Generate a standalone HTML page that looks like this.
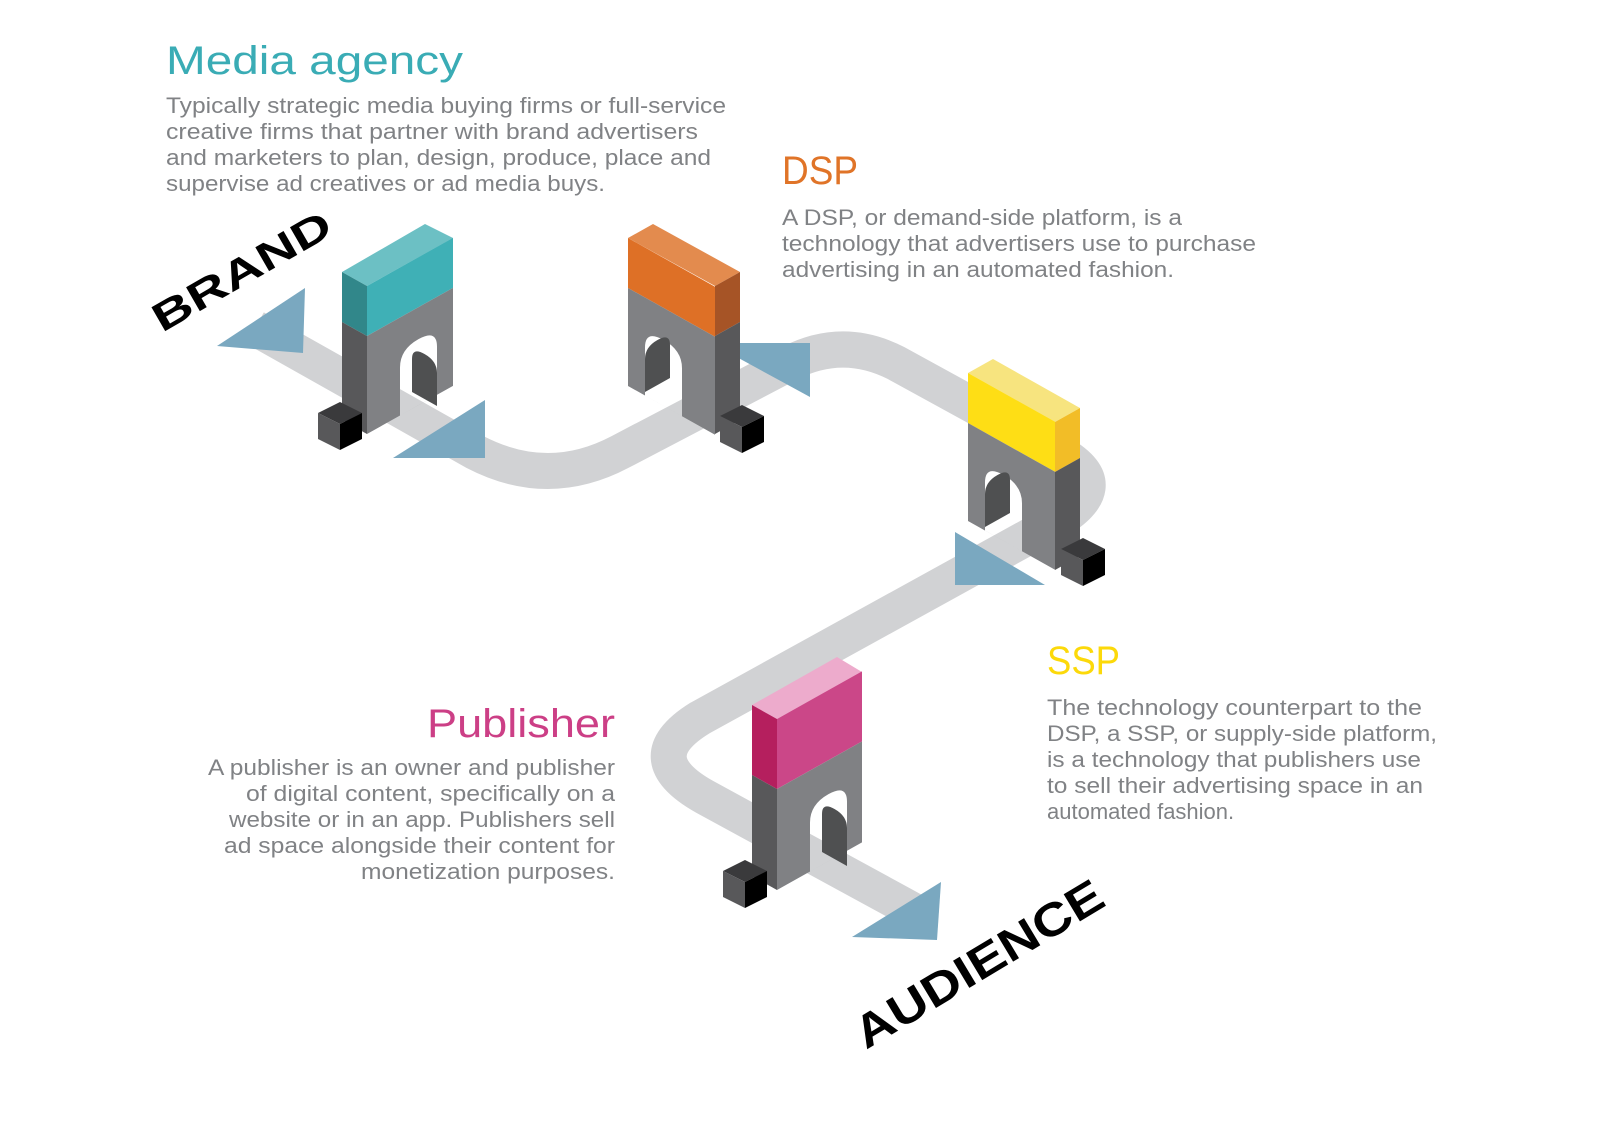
<!DOCTYPE html>
<html><head><meta charset="utf-8"><style>
html,body{margin:0;padding:0;background:#fff}
svg{display:block}
.h{font-family:"Liberation Sans",sans-serif;font-size:40px}
.t{font-family:"Liberation Sans",sans-serif;font-size:22px;fill:#808285}
.b{font-family:"Liberation Sans",sans-serif;font-weight:bold;fill:#000}
</style></head><body>
<svg width="1600" height="1124" viewBox="0 0 1600 1124" xmlns="http://www.w3.org/2000/svg">
<!-- road -->
<path d="M 255 328 L 475 452 Q 548 490 620 452 L 790 363 Q 843 336 896 363 L 1060 453 Q 1120 487 1050 525 L 700 718 Q 635 758 705 797 L 925 917" fill="none" stroke="#d1d2d4" stroke-width="36"/>

<!-- arrow behind DSP gate -->
<polygon points="711,343 810,343 810,397" fill="#7aa8c0"/>

<!-- Brand gate (A) -->
<g>
 <polygon points="342,272 425,224 453,238 367,286" fill="#6cc0c4"/>
 <g transform="matrix(1,-0.56,0,1,367,286)">
  <rect x="0" y="0" width="86" height="50" fill="#3fb0b6"/>
  <path d="M0 50 H86 V148 H0 Z M33 148 L33 100 Q33 82 51.5 82 Q70 82 70 100 L70 148 Z" fill="#808184" fill-rule="evenodd"/>
 </g>
 <path transform="matrix(1,0.56,0,1,412,347)" d="M0 45 L0 12 Q0 0 12.5 0 Q25 0 25 12 L25 45 Z" fill="#4f5051"/>
 <g transform="matrix(1,0.56,0,1,342,272)">
  <rect x="0" y="0" width="25" height="50" fill="#31878a"/>
  <rect x="0" y="50" width="25" height="98" fill="#58585a"/>
 </g>
</g>
<!-- DSP gate (B) -->
<g>
 <polygon points="628,238 653,224 740,272 715,286" fill="#e38b4e"/>
 <g transform="matrix(1,0.56,0,1,628,238)">
  <rect x="0" y="0" width="87" height="50" fill="#de7026"/>
  <path d="M0 50 H87 V148 H0 Z M17 148 L17 100 Q17 82 35.5 82 Q54 82 54 100 L54 148 Z" fill="#808184" fill-rule="evenodd"/>
 </g>
 <path transform="matrix(1,-0.56,0,1,645,347)" d="M0 45 L0 12 Q0 0 12.5 0 Q25 0 25 12 L25 45 Z" fill="#4f5051"/>
 <g transform="matrix(1,-0.56,0,1,715,286)">
  <rect x="0" y="0" width="25" height="50" fill="#a65426"/>
  <rect x="0" y="50" width="25" height="98" fill="#58585a"/>
 </g>
</g>
<!-- SSP gate (B) -->
<g>
 <polygon points="968,373 993,359 1080,408 1055,422" fill="#f7e47f"/>
 <g transform="matrix(1,0.56,0,1,968,373)">
  <rect x="0" y="0" width="87" height="50" fill="#fede15"/>
  <path d="M0 50 H87 V148 H0 Z M17 148 L17 100 Q17 82 35.5 82 Q54 82 54 100 L54 148 Z" fill="#808184" fill-rule="evenodd"/>
 </g>
 <path transform="matrix(1,-0.56,0,1,985,482)" d="M0 45 L0 12 Q0 0 12.5 0 Q25 0 25 12 L25 45 Z" fill="#4f5051"/>
 <g transform="matrix(1,-0.56,0,1,1055,422)">
  <rect x="0" y="0" width="25" height="50" fill="#f2bd27"/>
  <rect x="0" y="50" width="25" height="98" fill="#58585a"/>
 </g>
</g>
<!-- Publisher gate (A) -->
<g>
 <polygon points="752,705 837,657 862,672 777,719" fill="#edabcc"/>
 <g transform="matrix(1,-0.56,0,1,777,719)">
  <rect x="0" y="0" width="85" height="70" fill="#cb4788"/>
  <path d="M0 70 H85 V171 H0 Z M33 171 L33 122 Q33 104 51.5 104 Q70 104 70 122 L70 171 Z" fill="#808184" fill-rule="evenodd"/>
 </g>
 <path transform="matrix(1,0.56,0,1,822,802)" d="M0 50 L0 12 Q0 0 12.5 0 Q25 0 25 12 L25 50 Z" fill="#4f5051"/>
 <g transform="matrix(1,0.56,0,1,752,705)">
  <rect x="0" y="0" width="25" height="70" fill="#b51f5e"/>
  <rect x="0" y="70" width="25" height="101" fill="#58585a"/>
 </g>
</g>

<!-- cubes -->
<g>
 <polygon points="340,402 362,413 340,424 318,413" fill="#3a3a3c"/><polygon points="318,413 340,424 340,450 318,439" fill="#58585a"/><polygon points="340,424 362,413 362,439 340,450" fill="#000"/>
 <polygon points="742,405 764,416 742,427 720,416" fill="#3a3a3c"/><polygon points="720,416 742,427 742,453 720,442" fill="#58585a"/><polygon points="742,427 764,416 764,442 742,453" fill="#000"/>
 <polygon points="1083,538 1105,549 1083,560 1061,549" fill="#3a3a3c"/><polygon points="1061,549 1083,560 1083,586 1061,575" fill="#58585a"/><polygon points="1083,560 1105,549 1105,575 1083,586" fill="#000"/>
 <polygon points="745,860 767,871 745,882 723,871" fill="#3a3a3c"/><polygon points="723,871 745,882 745,908 723,897" fill="#58585a"/><polygon points="745,882 767,871 767,897 745,908" fill="#000"/>
</g>

<!-- arrows -->
<g fill="#7aa8c0">
 <polygon points="217,346 305,288 303,353"/>
 <polygon points="393,458 485,400 485,458"/>
 <polygon points="955,532 955,585 1045,585"/>
 <polygon points="852,937 941,882 937,940"/>
</g>

<!-- labels -->
<text class="b" font-size="40" transform="translate(162,333) rotate(-30)" textLength="200" lengthAdjust="spacingAndGlyphs">BRAND</text>
<text class="b" font-size="46" transform="translate(866,1050) rotate(-31)" textLength="282" lengthAdjust="spacingAndGlyphs">AUDIENCE</text>

<text class="h" x="166" y="74" fill="#3aacb5" textLength="297" lengthAdjust="spacingAndGlyphs">Media agency</text>
<text class="t" x="166" y="113" textLength="560" lengthAdjust="spacingAndGlyphs">Typically strategic media buying firms or full-service</text>
<text class="t" x="166" y="139" textLength="532" lengthAdjust="spacingAndGlyphs">creative firms that partner with brand advertisers</text>
<text class="t" x="166" y="165" textLength="545" lengthAdjust="spacingAndGlyphs">and marketers to plan, design, produce, place and</text>
<text class="t" x="166" y="191" textLength="439" lengthAdjust="spacingAndGlyphs">supervise ad creatives or ad media buys.</text>

<text class="h" x="782" y="184" fill="#e07428" textLength="76" lengthAdjust="spacingAndGlyphs">DSP</text>
<text class="t" x="782" y="225" textLength="400" lengthAdjust="spacingAndGlyphs">A DSP, or demand-side platform, is a</text>
<text class="t" x="782" y="251" textLength="474" lengthAdjust="spacingAndGlyphs">technology that advertisers use to purchase</text>
<text class="t" x="782" y="277" textLength="392" lengthAdjust="spacingAndGlyphs">advertising in an automated fashion.</text>

<text class="h" x="1047" y="674" fill="#fcd90a" textLength="73" lengthAdjust="spacingAndGlyphs">SSP</text>
<text class="t" x="1047" y="715" textLength="375" lengthAdjust="spacingAndGlyphs">The technology counterpart to the</text>
<text class="t" x="1047" y="741" textLength="390" lengthAdjust="spacingAndGlyphs">DSP, a SSP, or supply-side platform,</text>
<text class="t" x="1047" y="767" textLength="374" lengthAdjust="spacingAndGlyphs">is a technology that publishers use</text>
<text class="t" x="1047" y="793" textLength="376" lengthAdjust="spacingAndGlyphs">to sell their advertising space in an</text>
<text class="t" x="1047" y="819">automated fashion.</text>

<text class="h" x="427" y="737" fill="#cc3f86" textLength="188" lengthAdjust="spacingAndGlyphs">Publisher</text>
<text class="t" x="208" y="775" textLength="407" lengthAdjust="spacingAndGlyphs">A publisher is an owner and publisher</text>
<text class="t" x="246" y="801" textLength="369" lengthAdjust="spacingAndGlyphs">of digital content, specifically on a</text>
<text class="t" x="229" y="827" textLength="386" lengthAdjust="spacingAndGlyphs">website or in an app. Publishers sell</text>
<text class="t" x="224" y="853" textLength="391" lengthAdjust="spacingAndGlyphs">ad space alongside their content for</text>
<text class="t" x="361" y="879" textLength="254" lengthAdjust="spacingAndGlyphs">monetization purposes.</text>
</svg>
</body></html>
